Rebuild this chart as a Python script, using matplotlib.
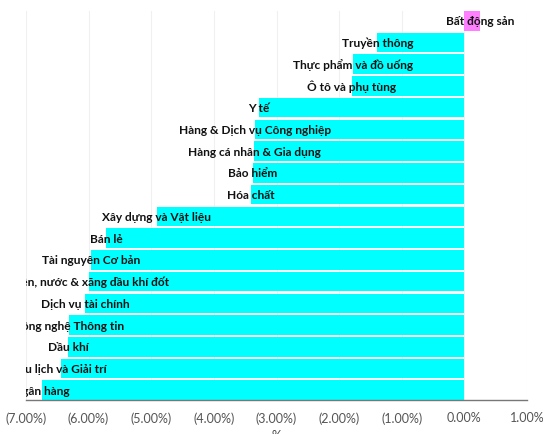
import matplotlib
matplotlib.use('Agg')
import matplotlib.pyplot as plt
from matplotlib.ticker import FuncFormatter, MultipleLocator

# sectors, top to bottom
SECTORS = [
    'Bất động sản',
    'Truyền thông',
    'Thực phẩm và đồ uống',
    'Ô tô và phụ tùng',
    'Y tế',
    'Hàng & Dịch vụ Công nghiệp',
    'Hàng cá nhân & Gia dụng',
    'Bảo hiểm',
    'Hóa chất',
    'Xây dựng và Vật liệu',
    'Bán lẻ',
    'Tài nguyên Cơ bản',
    'Điện, nước & xăng dầu khí đốt',
    'Dịch vụ tài chính',
    'Công nghệ Thông tin',
    'Dầu khí',
    'Du lịch và Giải trí',
    'Ngân hàng',
]
# change, in percent
CHANGE = [0.25, -1.39, -1.78, -1.80, -3.28, -3.35, -3.36, -3.38, -3.41,
          -4.91, -5.72, -5.96, -5.99, -6.06, -6.32, -6.33, -6.44, -6.75]

UP_COLOR = '#ff80ff'
DOWN_COLOR = '#00ffff'
FONT = 'Lato'


def pct(v, pos):
    if v < -1e-9:
        return '(%.2f%%)' % (-v)
    return '%.2f%%' % abs(v)


def main():
    fig = plt.figure(figsize=(5.43, 4.35), dpi=100)
    ax = fig.add_axes([26 / 543, 34 / 435, 501 / 543, 389 / 435])

    n = len(SECTORS)
    ys = [n - 1 - i for i in range(n)]
    colors = [UP_COLOR if v > 0 else DOWN_COLOR for v in CHANGE]
    ax.barh(ys, CHANGE, height=0.9, color=colors, edgecolor='none', zorder=2)

    for y, v, name in zip(ys, CHANGE, SECTORS):
        ax.text(v, y, name, ha='center', va='center', fontsize=8.6,
                fontweight='bold', family=FONT, color='#111111',
                clip_on=True, zorder=3)

    ax.set_xlim(-7, 1)
    ax.set_ylim(-0.45, n - 0.55)
    ax.xaxis.set_major_locator(MultipleLocator(1))
    ax.xaxis.set_major_formatter(FuncFormatter(pct))
    ax.grid(axis='x', color='#f0f0f0', linewidth=0.8, zorder=0)
    ax.set_yticks([])
    for side in ['left', 'right', 'top']:
        ax.spines[side].set_visible(False)
    ax.spines['bottom'].set_color('#777777')
    ax.spines['bottom'].set_linewidth(1)
    ax.tick_params(axis='x', length=0, pad=8, labelsize=9, labelcolor='#555555')
    for lbl in ax.get_xticklabels():
        lbl.set_family(FONT)
    ax.set_xlabel('%', fontsize=9, color='#444444', family=FONT, labelpad=4)

    fig.savefig('out.png', dpi=100)


if __name__ == '__main__':
    main()
